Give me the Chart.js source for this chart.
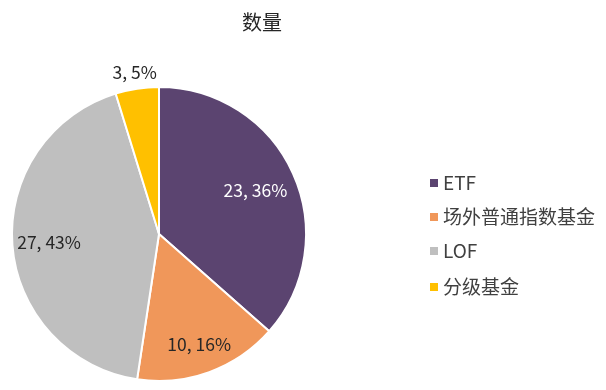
<!DOCTYPE html>
<html>
<head>
<meta charset="utf-8">
<script src="https://cdn.jsdelivr.net/npm/chart.js@4/dist/chart.umd.min.js"></script>
<style>
    html, body { margin: 0; padding: 0; background: #fff; }
    #wrap { width: 606px; height: 390px; position: relative; }
</style>
</head>
<body>
<div id="wrap"><canvas id="pieChart"></canvas></div>
<script>
    'use strict';

    var chartTitle = '数量';
    var categories = ['ETF', '场外普通指数基金', 'LOF', '分级基金'];
    var counts = [23, 10, 27, 3];
    var percents = [36, 16, 43, 5];
    var colors = ['#5B4470', '#F0975A', '#BFBFBF', '#FFC000'];
    var labelColors = ['#FFFFFF', '#262626', '#262626', '#262626'];
    var labelRadius = [0.72, 0.8, 0.75, 1.11];

    var fontFamily = '"Noto Sans CJK SC", "Noto Sans", sans-serif';

    var overlayPlugin = {
        id: 'overlay',
        afterDraw: function (chart) {
            var ctx = chart.ctx;
            var meta = chart.getDatasetMeta(0);

            ctx.save();
            ctx.textAlign = 'center';
            ctx.textBaseline = 'middle';

            // title
            ctx.fillStyle = '#262626';
            ctx.font = '20px ' + fontFamily;
            ctx.fillText(chartTitle, 262, 22);

            // slice labels
            ctx.font = '17.5px ' + fontFamily;
            meta.data.forEach(function (arc, i) {
                var props = arc.getProps(['x', 'y', 'startAngle', 'endAngle', 'outerRadius'], true);
                var mid = (props.startAngle + props.endAngle) / 2;
                var r = props.outerRadius * labelRadius[i];
                ctx.fillStyle = labelColors[i];
                ctx.fillText(counts[i] + ', ' + percents[i] + '%', props.x + Math.cos(mid) * r, props.y + Math.sin(mid) * r);
            });

            // legend
            var legendY = [183, 217, 251, 287];
            ctx.textAlign = 'left';
            ctx.font = '19px ' + fontFamily;
            categories.forEach(function (name, i) {
                ctx.fillStyle = colors[i];
                ctx.fillRect(430, legendY[i] - 4, 8, 8);
                ctx.fillStyle = '#404040';
                ctx.fillText(name, 443, legendY[i]);
            });
            ctx.restore();
        }
    };

    new Chart(document.getElementById('pieChart'), {
        type: 'pie',
        data: {
            labels: categories,
            datasets: [{
                data: counts,
                backgroundColor: colors,
                borderColor: '#FFFFFF',
                borderWidth: 2
            }]
        },
        options: {
            responsive: true,
            maintainAspectRatio: false,
            animation: false,
            layout: {
                padding: { left: 11, top: 86, right: 299, bottom: 8 }
            },
            plugins: {
                legend: { display: false },
                tooltip: { enabled: false }
            }
        },
        plugins: [overlayPlugin]
    });
</script>
</body>
</html>
